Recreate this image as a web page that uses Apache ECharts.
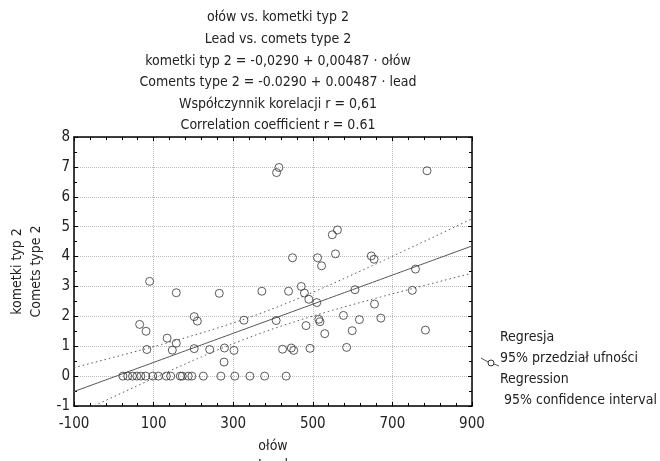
<!DOCTYPE html>
<html><head><meta charset="utf-8">
<script src="https://cdn.jsdelivr.net/npm/echarts@6/dist/echarts.min.js"></script>
<style>html,body{margin:0;padding:0;background:#fff}#c{width:660px;height:461px}</style>
</head><body><div id="c"></div>
<script>
// ---- data ----
const titleLines = [
  'ołów vs. kometki typ 2',
  'Lead vs. comets type 2',
  'kometki typ 2 = -0,0290 + 0,00487 · ołów',
  'Coments type 2 = -0.0290 + 0.00487 · lead',
  'Współczynnik korelacji r = 0,61',
  'Correlation coefficient r = 0.61'
];
const xTickLabels = ['-100', '100', '300', '500', '700', '900'];
const yTickLabels = ['-1', '0', '1', '2', '3', '4', '5', '6', '7', '8'];
const legendLines = ['Regresja', '95% przedział ufności', 'Regression', ' 95% confidence interval'];
const INTERCEPT = -0.0290;
const SLOPE = 0.00487;
const T95 = 1.99;
// paired observations: lead (ołów) and comets type 2 (kometki typ 2)
const lead = [
  23, 35, 47, 58, 68, 80, 98, 112, 132, 143, 167, 172, 187, 196, 225, 269, 304, 342, 379, 433,
  90, 157, 265, 372, 439, 65, 81, 202, 210, 327, 408, 134, 157, 147, 83, 202, 241, 278, 302,
  424, 446, 452, 277, 758, 471, 479, 490, 510, 606, 750, 655, 515, 518, 577, 617, 671, 483,
  530, 599, 783, 493, 585, 415, 409, 787, 562, 549, 449, 512, 522, 557, 647, 654
];
const comets = [
  0, 0, 0, 0, 0, 0, 0, 0, 0, 0, 0, 0, 0, 0, 0, 0, 0, 0, 0, 0,
  3.17, 2.79, 2.77, 2.84, 2.84, 1.73, 1.5, 1.99, 1.84, 1.87, 1.86, 1.27, 1.1, 0.87, 0.89, 0.92, 0.89, 0.94, 0.86,
  0.9, 0.94, 0.86, 0.47, 3.58, 3.0, 2.78, 2.57, 2.46, 2.89, 2.87, 2.41, 1.9, 1.82, 2.03, 1.89, 1.94, 1.69,
  1.42, 1.52, 1.54, 0.93, 0.96, 6.98, 6.81, 6.87, 4.89, 4.73, 3.96, 3.96, 3.69, 4.09, 4.02, 3.91
];

// ---- derived ----
const X_MIN = Number(xTickLabels[0]), X_MAX = Number(xTickLabels[xTickLabels.length - 1]);
const Y_MIN = Number(yTickLabels[0]), Y_MAX = Number(yTickLabels[yTickLabels.length - 1]);
const pts = lead.map((x, i) => [x, comets[i]]);
const n = lead.length;
const xbar = lead.reduce((a, b) => a + b, 0) / n;
const Sxx = lead.reduce((a, x) => a + (x - xbar) * (x - xbar), 0);
const sse = pts.reduce((a, p) => { const r = p[1] - (INTERCEPT + SLOPE * p[0]); return a + r * r; }, 0);
const s = Math.sqrt(sse / (n - 2));
const fitLine = [], ciUp = [], ciLo = [];
for (let x = X_MIN; x <= X_MAX; x += 5) {
  const yh = INTERCEPT + SLOPE * x;
  const h = T95 * s * Math.sqrt(1 / n + (x - xbar) * (x - xbar) / Sxx);
  fitLine.push([x, yh]); ciUp.push([x, yh + h]); ciLo.push([x, yh - h]);
}

const FONT = "'DejaVu Sans Condensed', 'Liberation Sans Narrow', 'Liberation Sans', sans-serif";
const TXT = '#222';
const gridL = 74, gridT = 137, gridW = 398, gridH = 269;

const chart = echarts.init(document.getElementById('c'), null, { renderer: 'canvas' });
const baseX = {
  type: 'value', min: X_MIN, max: X_MAX, interval: 200,
  axisLine: { show: true, onZero: false, lineStyle: { color: '#000', width: 1.5 } },
  axisTick: { show: true, inside: true, length: 4, lineStyle: { color: '#000' } },
  minorTick: { show: true, splitNumber: 5, length: 3, lineStyle: { color: '#000' } },
  splitLine: { show: false }
};
const baseY = {
  type: 'value', min: Y_MIN, max: Y_MAX, interval: 1,
  axisLine: { show: true, onZero: false, lineStyle: { color: '#000', width: 1.5 } },
  axisTick: { show: true, inside: true, length: 4, lineStyle: { color: '#000' } },
  minorTick: { show: true, splitNumber: 2, length: 3, lineStyle: { color: '#000' } },
  splitLine: { show: false }
};

const option = {
  animation: false,
  backgroundColor: '#fff',
  textStyle: { fontFamily: FONT },
  title: {
    text: titleLines.join('\n'),
    left: gridL + gridW / 2, top: 2, textAlign: 'center',
    textStyle: { fontFamily: FONT, fontSize: 14, fontWeight: 'normal', color: TXT, lineHeight: 21.6 }
  },
  grid: { left: gridL, top: gridT, width: gridW, height: gridH, containLabel: false, outerBoundsMode: 'none' },
  xAxis: [
    Object.assign({}, baseX, {
      position: 'bottom',
      name: 'ołów\nLead', nameLocation: 'middle', nameGap: 26,
      nameTextStyle: { fontFamily: FONT, fontSize: 14, color: TXT, lineHeight: 19, verticalAlign: 'top' },
      axisLabel: { fontFamily: FONT, fontSize: 15, color: TXT, margin: 11,
        formatter: v => xTickLabels.find(t => Number(t) === v) || '' },
      splitLine: { show: true, lineStyle: { color: '#bbb', type: 'dotted', width: 1 } }
    }),
    Object.assign({}, baseX, { position: 'top', axisLabel: { show: false } })
  ],
  yAxis: [
    Object.assign({}, baseY, {
      position: 'left',
      name: 'kometki typ 2\nComets type 2', nameLocation: 'middle', nameGap: 24,
      nameTextStyle: { fontFamily: FONT, fontSize: 14, color: TXT, lineHeight: 19, verticalAlign: 'bottom' },
      axisLabel: { fontFamily: FONT, fontSize: 15, color: TXT, margin: 4,
        formatter: v => yTickLabels.find(t => Number(t) === v) || '' },
      splitLine: { show: true, lineStyle: { color: '#bbb', type: 'dotted', width: 1 } }
    }),
    Object.assign({}, baseY, { position: 'right', axisLabel: { show: false } })
  ],
  series: [
    { type: 'line', name: 'Regresja', data: fitLine, showSymbol: false, clip: true,
      lineStyle: { color: '#555', width: 1 }, z: 3 },
    { type: 'line', name: '95% CI upper', data: ciUp, showSymbol: false, clip: true,
      lineStyle: { color: '#555', width: 1, type: [1.5, 3] }, z: 3 },
    { type: 'line', name: '95% CI lower', data: ciLo, showSymbol: false, clip: true,
      lineStyle: { color: '#555', width: 1, type: [1.5, 3] }, z: 3 },
    { type: 'scatter', name: 'dane', data: pts, symbol: 'circle', symbolSize: 8,
      itemStyle: { color: 'rgba(255,255,255,0)', borderColor: '#333', borderWidth: 1 }, z: 4 }
  ],
  graphic: [
    { type: 'polyline', shape: { points: [[481, 358], [488, 362]] }, style: { stroke: '#555', lineWidth: 1 } },
    { type: 'circle', shape: { cx: 491, cy: 363, r: 3 }, style: { fill: '#fff', stroke: '#333', lineWidth: 1 } },
    { type: 'polyline', shape: { points: [[494, 364], [499, 366]] }, style: { stroke: '#555', lineWidth: 1 } }
  ].concat(legendLines.map((t, i) => ({
    type: 'text', left: 500, top: 330 + i * 21,
    style: { text: t, fontFamily: FONT, fontSize: 14, fill: TXT }
  })))
};
chart.setOption(option);
</script>
</body></html>
